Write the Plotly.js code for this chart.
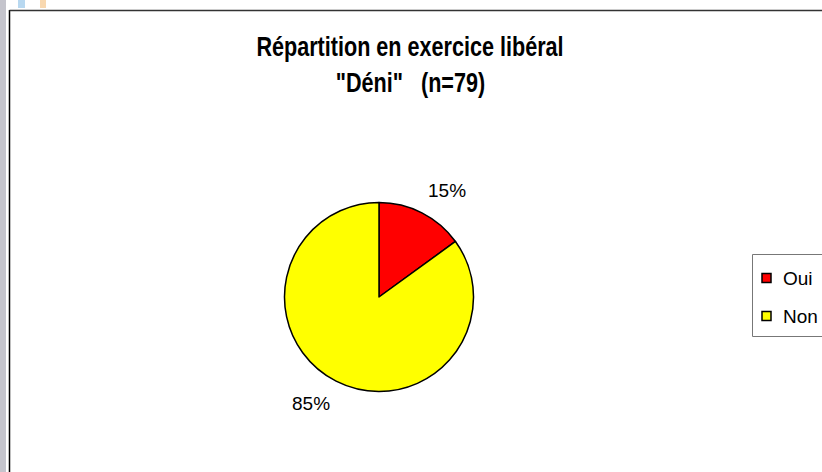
<!DOCTYPE html>
<html>
<head>
<meta charset="utf-8">
<script src="https://cdn.plot.ly/plotly-3.0.1.min.js"></script>
<style>html,body{margin:0;padding:0;background:#fff;overflow:hidden;}#chart{width:822px;height:472px;}</style>
</head>
<body>
<div id="chart"></div>
<script>
const categories = ["Oui", "Non"];
const values = [15, 85];
const sliceColors = ["#FF0000", "#FFFF00"];
const titleLine1 = "Répartition en exercice libéral";
const titleLine2 = "\"Déni\"   (n=79)";

const W = 822, H = 472;
const px = v => v / W, py = v => 1 - v / H;
const cx = 379, cy = 297, r = 94.5;
const titleFont = { family: "Liberation Sans, Arial, sans-serif", size: 27, color: "#000", weight: "bold" };
const titleSqueeze = 0.8;
const bodyFont = { family: "Liberation Sans, Arial, sans-serif", size: 19, color: "#000" };

const trace = {
  type: "pie",
  labels: categories,
  values: values,
  sort: false,
  direction: "clockwise",
  rotation: 0,
  marker: { colors: sliceColors, line: { color: "#000", width: 1.5 } },
  textinfo: "none",
  hoverinfo: "none",
  showlegend: false,
  domain: { x: [px(cx - r), px(cx + r)], y: [py(cy + r), py(cy - r)] }
};

// percent labels placed outside each slice, at its mid-angle
const total = values.reduce((a, b) => a + b, 0);
const annotations = [];
let acc = 0;
values.forEach((v, i) => {
  const mid = (acc + v / 2) / total * 2 * Math.PI;
  acc += v;
  const s = Math.sin(mid), c = Math.cos(mid);
  const R = r + 12;
  annotations.push({
    text: Math.round(v / total * 100) + "%",
    xref: "paper", yref: "paper",
    x: px(cx + R * s), y: py(cy - R * c),
    xanchor: s >= 0 ? "left" : "right",
    yanchor: c >= 0 ? "bottom" : "top",
    showarrow: false, font: bodyFont, borderpad: 0
  });
});

annotations.push({
  text: titleLine2, xref: "paper", yref: "paper",
  x: px(410), y: py(83), xanchor: "center", yanchor: "middle", showarrow: false,
  font: titleFont, name: "title2"
});

// legend entries
const legX = 762, legY0 = 278, legStep = 38;
const shapes = [
  { type: "rect", xref: "paper", yref: "paper", x0: 0, x1: px(6), y0: 0, y1: 1, fillcolor: "#c4c4cc", line: { width: 0 }, layer: "below" },
  { type: "rect", xref: "paper", yref: "paper", x0: px(18), x1: px(25), y0: py(8), y1: 1, fillcolor: "#b8d8f0", line: { width: 0 }, layer: "below" },
  { type: "rect", xref: "paper", yref: "paper", x0: px(40), x1: px(46), y0: py(8), y1: 1, fillcolor: "#f8d8b0", line: { width: 0 }, layer: "below" },
  { type: "line", xref: "paper", yref: "paper", x0: px(9.5), x1: px(9.5), y0: 0, y1: py(10), line: { color: "#000", width: 1.5 } },
  { type: "line", xref: "paper", yref: "paper", x0: px(9.5), x1: 1, y0: py(10.5), y1: py(10.5), line: { color: "#333", width: 1.5 } },
  { type: "rect", xref: "paper", yref: "paper", x0: px(752.5), x1: px(830), y0: py(336.5), y1: py(254.5), fillcolor: "rgba(0,0,0,0)", line: { color: "#777", width: 1 } }
];
categories.forEach((name, i) => {
  const yc = legY0 + i * legStep;
  shapes.push({ type: "rect", xref: "paper", yref: "paper",
    x0: px(legX), x1: px(legX + 9), y0: py(yc + 4.5), y1: py(yc - 4.5),
    fillcolor: sliceColors[i], line: { color: "#000", width: 1.5 } });
  annotations.push({ text: name, xref: "paper", yref: "paper",
    x: px(legX + 19), y: py(yc), xanchor: "left", yanchor: "middle",
    showarrow: false, font: { family: "Liberation Sans, Arial, sans-serif", size: 19, color: "#000" } });
});

const layout = {
  width: W, height: H,
  margin: { l: 0, r: 0, t: 0, b: 0, autoexpand: false },
  paper_bgcolor: "#fff",
  showlegend: false,
  title: {
    text: titleLine1,
    font: titleFont,
    x: px(410), xanchor: "center",
    y: py(47), yanchor: "middle"
  },
  annotations: annotations,
  shapes: shapes
};

function squeeze(el, k) {
  if (!el) return;
  const bb = el.getBBox();
  const m = bb.x + bb.width / 2;
  const prev = el.getAttribute("transform") || "";
  el.setAttribute("transform", prev + ` translate(${m},0) scale(${k},1) translate(${-m},0)`);
}

Plotly.newPlot("chart", [trace], layout, { displayModeBar: false, staticPlot: true }).then(gd => {
  squeeze(gd.querySelector("text.gtitle"), titleSqueeze);
  const idx = annotations.findIndex(a => a.name === "title2");
  const ann = gd.querySelectorAll(".annotation")[idx];
  if (ann) squeeze(ann.querySelector("text.annotation-text"), titleSqueeze);
});
</script>
</body>
</html>
